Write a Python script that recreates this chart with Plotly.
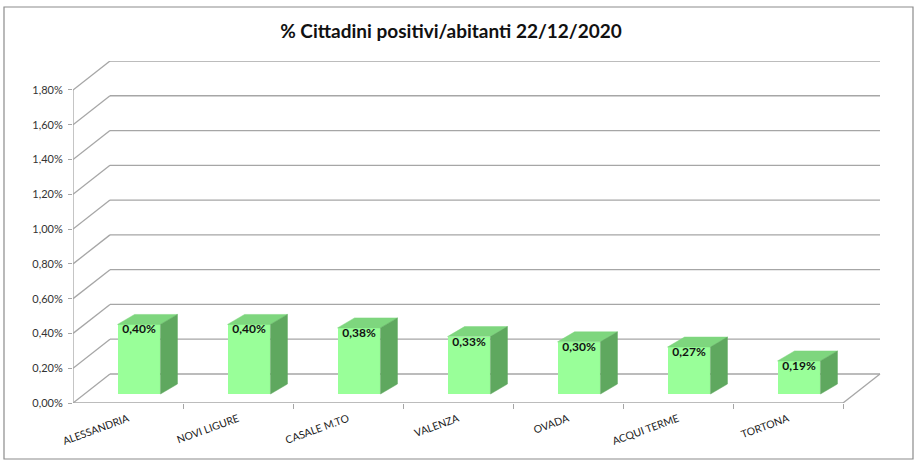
import plotly.graph_objects as go

# ---- data ----
cities = ["ALESSANDRIA", "NOVI LIGURE", "CASALE M.TO", "VALENZA", "OVADA", "ACQUI TERME", "TORTONA"]
values = [0.0040, 0.0040, 0.0038, 0.0033, 0.0030, 0.0027, 0.0019]
y_ticks = [0.000, 0.002, 0.004, 0.006, 0.008, 0.010, 0.012, 0.014, 0.016, 0.018]
title_text = "% Cittadini positivi/abitanti 22/12/2020"

# ---- geometry (pseudo-3D) ----
W, H = 924, 466
ML, MR, MT, MB = 73, 42, 61, 63
XS = 110.0                      # px per category
plot_w = W - ML - MR
plot_h = H - MT - MB
YS = 17390.0                    # px per unit of fraction
XMAX = plot_w / XS
YMAX = plot_h / YS
DX, DY = 37 / XS, 29 / YS       # wall depth offset
BDX, BDY = 17 / XS, 10 / YS     # bar depth offset
BASE = 9 / YS                   # bar front bottom (depth position)
SHIFT = 0.1                     # bar shift caused by depth position
BW = 0.39
n = len(cities)

GRID = "#A6A6A6"
FRONT, TOP, SIDE = "#99FF99", "#7ED67E", "#5FA85F"
FONT = "Lato"

fig = go.Figure()

shapes = []
# back wall gridlines + left diagonals
for v in y_ticks:
    shapes.append(dict(type="line", xref="x", yref="y", x0=DX, y0=v + DY, x1=n + DX, y1=v + DY,
                       line=dict(color=GRID, width=1.3), layer="below"))
    shapes.append(dict(type="line", xref="x", yref="y", x0=0, y0=v, x1=DX, y1=v + DY,
                       line=dict(color=GRID, width=1.3), layer="below"))
# front vertical edge
shapes.append(dict(type="line", xref="x", yref="y", x0=0, y0=0, x1=0, y1=y_ticks[-1],
                   line=dict(color=GRID, width=1.3), layer="below"))
# floor front and right edges
shapes.append(dict(type="line", xref="x", yref="y", x0=0, y0=0, x1=n, y1=0,
                   line=dict(color=GRID, width=1.3), layer="below"))
shapes.append(dict(type="line", xref="x", yref="y", x0=n, y0=0, x1=n + DX, y1=DY,
                   line=dict(color=GRID, width=1.3), layer="below"))
# outer chart frame
shapes.append(dict(type="rect", xref="paper", yref="paper",
                   x0=(4 - ML) / plot_w, x1=(913 - ML) / plot_w,
                   y0=(H - MB - 459) / plot_h, y1=(H - MB - 7) / plot_h,
                   line=dict(color="#8C8C8C", width=1.2), fillcolor="rgba(0,0,0,0)", layer="below"))

# front faces
xc = [i + 0.5 + SHIFT for i in range(n)]
fig.add_trace(go.Bar(x=xc, y=values, base=[BASE] * n, width=BW,
                     marker=dict(color=FRONT, line=dict(width=0)), hoverinfo="skip", showlegend=False))

# top and side faces
tx, ty, sx, sy = [], [], [], []
for c, v in zip(xc, values):
    xl, xr = c - BW / 2, c + BW / 2
    top = BASE + v
    tx += [xl, xr, xr + BDX, xl + BDX, xl, None]
    ty += [top, top, top + BDY, top + BDY, top, None]
    sx += [xr, xr + BDX, xr + BDX, xr, xr, None]
    sy += [BASE, BASE + BDY, top + BDY, top, BASE, None]
fig.add_trace(go.Scatter(x=tx, y=ty, mode="lines", fill="toself", fillcolor=TOP,
                         line=dict(color=TOP, width=0.5), hoverinfo="skip", showlegend=False))
fig.add_trace(go.Scatter(x=sx, y=sy, mode="lines", fill="toself", fillcolor=SIDE,
                         line=dict(color=SIDE, width=0.5), hoverinfo="skip", showlegend=False))

# data labels
labels = [f"{v * 100:.2f}%".replace(".", ",") for v in values]
fig.add_trace(go.Scatter(x=xc, y=[BASE + v for v in values], mode="text", text=labels,
                         textposition="bottom center",
                         textfont=dict(family=FONT, size=12, color="#111111", weight="bold"),
                         hoverinfo="skip", showlegend=False, cliponaxis=False))

fig.update_layout(
    width=W, height=H,
    margin=dict(l=ML, r=MR, t=MT, b=MB, pad=0),
    paper_bgcolor="white", plot_bgcolor="white",
    separators=",.",
    showlegend=False,
    bargap=0,
    shapes=shapes,
    title=dict(text=title_text, x=451 / W, xref="container", xanchor="center",
               y=1 - 31 / H, yref="container", yanchor="middle",
               font=dict(family=FONT, size=19, color="#111111", weight="bold")),
    xaxis=dict(range=[0, XMAX], showgrid=False, zeroline=False, showline=False,
               tickvals=[i + 0.5 for i in range(n)], ticktext=cities, tickangle=-20,
               ticks="", ticklabelstandoff=7,
               tickfont=dict(family=FONT, size=10.5, color="#222222"),
               minor=dict(tickvals=list(range(1, n + 1)), ticks="outside", ticklen=5,
                          tickcolor=GRID, tickwidth=1.2)),
    yaxis=dict(range=[0, YMAX], showgrid=False, zeroline=False, showline=False,
               tickvals=y_ticks, tickformat=".2%", ticks="outside", ticklen=4,
               tickcolor=GRID, tickwidth=1.2, ticklabelstandoff=3,
               tickfont=dict(family=FONT, size=11, color="#333333")),
)

fig.write_html("out.html")
